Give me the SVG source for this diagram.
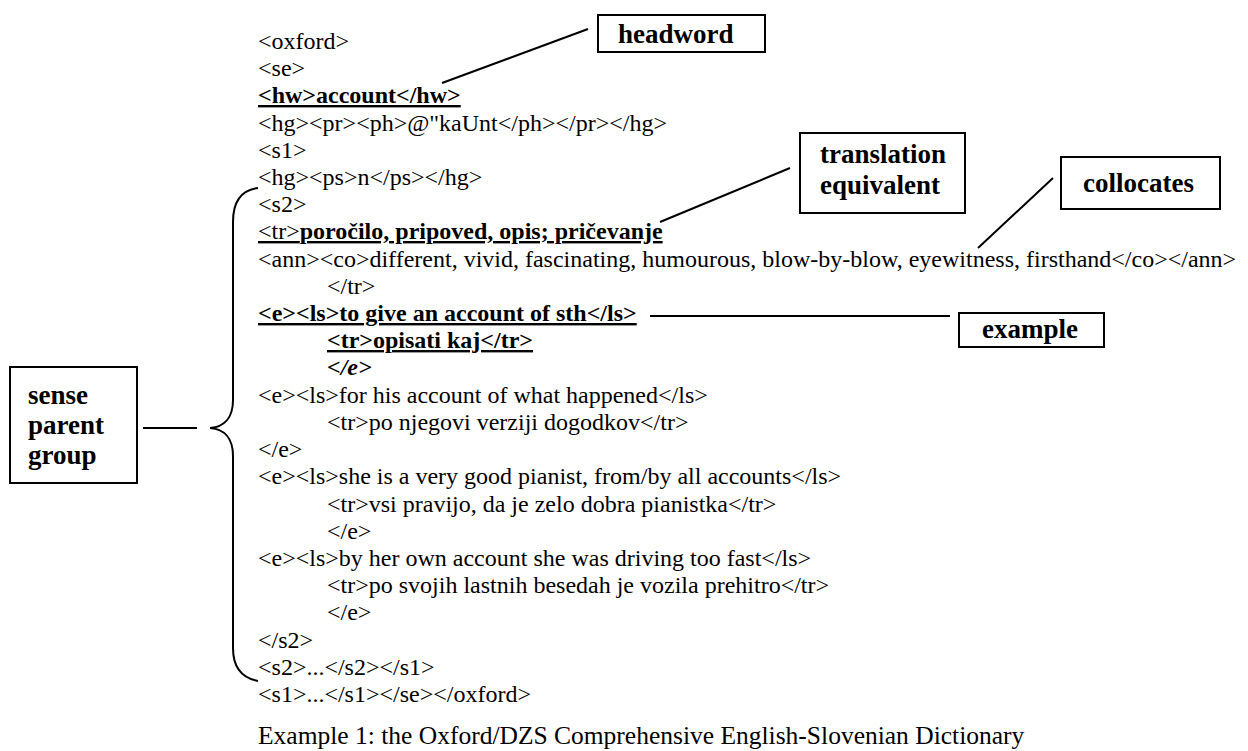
<svg xmlns="http://www.w3.org/2000/svg" width="1248" height="751" viewBox="0 0 1248 751">
<style>
.t{font-family:"Liberation Serif","Times New Roman",serif;font-size:24px;fill:#000}
.cap{font-family:"Liberation Serif","Times New Roman",serif;font-size:25.5px;fill:#000}
.b{font-weight:bold}
.u{text-decoration:underline}
.lb{font-family:"Liberation Serif","Times New Roman",serif;font-size:27px;font-weight:bold;fill:#000}
.box{fill:#fff;stroke:#000;stroke-width:2}
.ln{stroke:#000;stroke-width:2;fill:none}
</style>
<rect width="1248" height="751" fill="#fff"/>
<g id="code">
<text class="t" x="258" y="49">&lt;oxford&gt;</text>
<text class="t" x="258" y="76">&lt;se&gt;</text>
<text class="t b u" x="258" y="103">&lt;hw&gt;account&lt;/hw&gt;</text>
<text class="t" x="258" y="131">&lt;hg&gt;&lt;pr&gt;&lt;ph&gt;@"kaUnt&lt;/ph&gt;&lt;/pr&gt;&lt;/hg&gt;</text>
<text class="t" x="258" y="158">&lt;s1&gt;</text>
<text class="t" x="258" y="185">&lt;hg&gt;&lt;ps&gt;n&lt;/ps&gt;&lt;/hg&gt;</text>
<text class="t" x="258" y="212">&lt;s2&gt;</text>
<text class="t u" x="258" y="239">&lt;tr&gt;<tspan class="b">poročilo, pripoved, opis; pričevanje</tspan></text>
<text class="t" x="258" y="267">&lt;ann&gt;&lt;co&gt;different, vivid, fascinating, humourous, blow-by-blow, eyewitness, firsthand&lt;/co&gt;&lt;/ann&gt;</text>
<text class="t" x="327" y="294">&lt;/tr&gt;</text>
<text class="t b u" x="258" y="321">&lt;e&gt;&lt;ls&gt;to give an account of sth&lt;/ls&gt;</text>
<text class="t b u" x="327" y="348">&lt;tr&gt;opisati kaj&lt;/tr&gt;</text>
<text class="t b" x="327" y="375" font-style="italic">&lt;/e&gt;</text>
<text class="t" x="258" y="403">&lt;e&gt;&lt;ls&gt;for his account of what happened&lt;/ls&gt;</text>
<text class="t" x="327" y="430">&lt;tr&gt;po njegovi verziji dogodkov&lt;/tr&gt;</text>
<text class="t" x="258" y="457">&lt;/e&gt;</text>
<text class="t" x="258" y="484">&lt;e&gt;&lt;ls&gt;she is a very good pianist, from/by all accounts&lt;/ls&gt;</text>
<text class="t" x="327" y="512">&lt;tr&gt;vsi pravijo, da je zelo dobra pianistka&lt;/tr&gt;</text>
<text class="t" x="327" y="539">&lt;/e&gt;</text>
<text class="t" x="258" y="566">&lt;e&gt;&lt;ls&gt;by her own account she was driving too fast&lt;/ls&gt;</text>
<text class="t" x="327" y="593">&lt;tr&gt;po svojih lastnih besedah je vozila prehitro&lt;/tr&gt;</text>
<text class="t" x="327" y="620">&lt;/e&gt;</text>
<text class="t" x="258" y="648">&lt;/s2&gt;</text>
<text class="t" x="258" y="675">&lt;s2&gt;...&lt;/s2&gt;&lt;/s1&gt;</text>
<text class="t" x="258" y="702">&lt;s1&gt;...&lt;/s1&gt;&lt;/se&gt;&lt;/oxford&gt;</text>
<text class="cap" x="258" y="744">Example 1: the Oxford/DZS Comprehensive English-Slovenian Dictionary</text>
</g>
<g id="headword">
<rect class="box" x="598" y="15" width="167" height="37"/>
<text class="lb" x="618" y="43">headword</text>
</g>
<g id="translation-equivalent">
<rect class="box" x="800" y="133" width="165" height="80"/>
<text class="lb" x="820" y="163">translation</text>
<text class="lb" x="820" y="194">equivalent</text>
</g>
<g id="collocates">
<rect class="box" x="1061" y="157" width="159" height="52"/>
<text class="lb" x="1083" y="192">collocates</text>
</g>
<g id="example">
<rect class="box" x="959" y="313" width="145" height="34"/>
<text class="lb" x="982" y="338">example</text>
</g>
<g id="sense-parent-group">
<rect class="box" x="10" y="367" width="127" height="116"/>
<text class="lb" x="28" y="404">sense</text>
<text class="lb" x="28" y="434">parent</text>
<text class="lb" x="28" y="464">group</text>
</g>
<g id="connectors">
<line class="ln" x1="442" y1="83" x2="588" y2="29"/>
<line class="ln" x1="660" y1="222" x2="790" y2="168"/>
<line class="ln" x1="978" y1="248" x2="1053" y2="178"/>
<line class="ln" x1="650" y1="316" x2="950" y2="316"/>
<line class="ln" x1="143" y1="428" x2="197" y2="428"/>
<path class="ln" d="M258 188 C242 190 233 200 233 222 L233 400 C233 418 224 427 210 428 C224 429 233 438 233 456 L233 648 C233 668 242 678 258 681"/>
</g>
</svg>
